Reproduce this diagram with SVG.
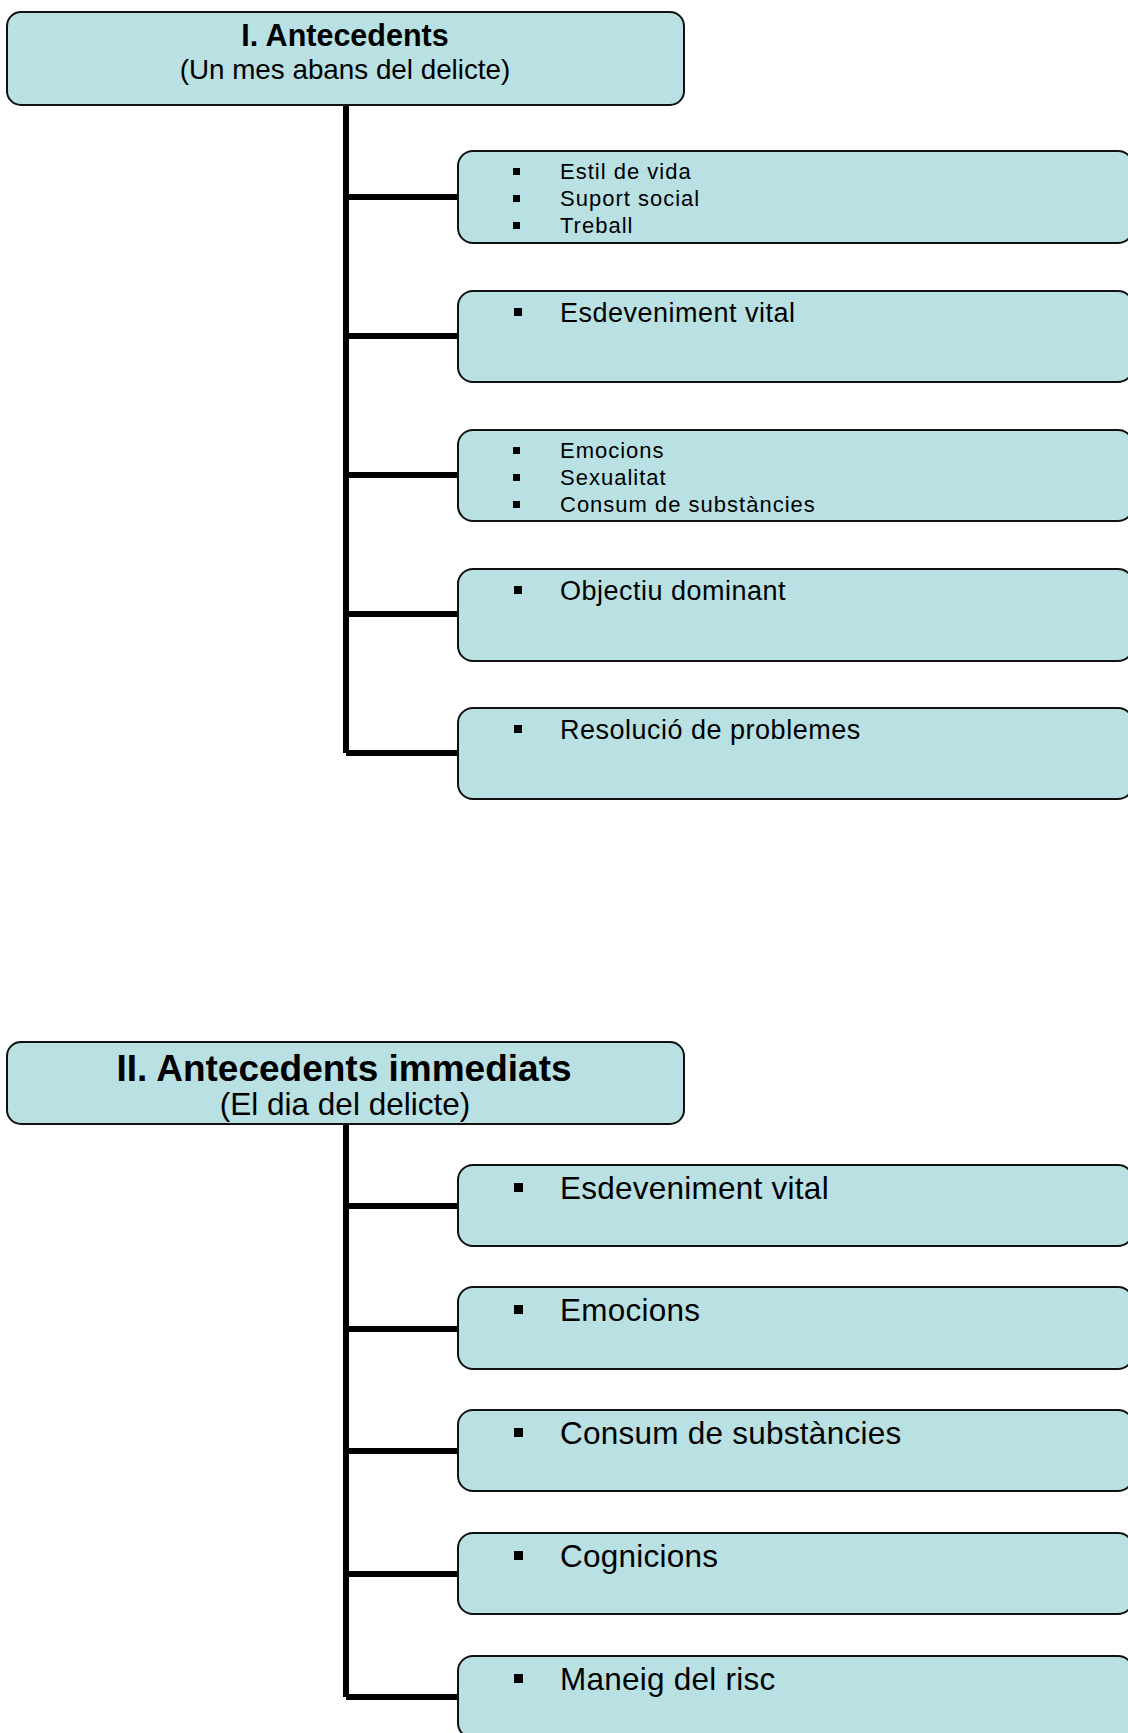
<svg xmlns="http://www.w3.org/2000/svg" width="1128" height="1733" viewBox="0 0 1128 1733">
<style>
.box{fill:#B9E0E3;stroke:#111;stroke-width:2}
.con{stroke:#000;stroke-width:6;fill:none}
text{font-family:"Liberation Sans",Arial,sans-serif;fill:#000}
.t1{font-size:30.5px;font-weight:bold;text-anchor:middle}
.s1{font-size:27.8px;text-anchor:middle}
.t2{font-size:37px;font-weight:bold;text-anchor:middle}
.s2{font-size:31.5px;text-anchor:middle}
.sm{font-size:22px;letter-spacing:1px}
.md{font-size:27px;letter-spacing:0.5px}
.lg{font-size:31.5px;letter-spacing:0.25px}
.b{fill:#000}
</style>
<rect width="1128" height="1733" fill="#fff"/>
<g id="connectors">
<path class="con" d="M346 105V753M346 197H458M346 336H458M346 475H458M346 614H458M346 753H458"/>
<path class="con" d="M346 1124V1697M346 1206H458M346 1329H458M346 1451H458M346 1574H458M346 1697H458"/>
</g>
<g id="sec1">
<rect class="box" x="7" y="12" width="677" height="93" rx="14"/>
<text class="t1" x="345" y="46">I. Antecedents</text>
<text class="s1" x="345" y="79">(Un mes abans del delicte)</text>
</g>
<g id="n1a">
<rect class="box" x="458" y="151" width="675" height="92" rx="15"/>
<rect class="b" x="513" y="168" width="7" height="7"/><text class="sm" x="560" y="179">Estil de vida</text>
<rect class="b" x="513" y="195" width="7" height="7"/><text class="sm" x="560" y="206">Suport social</text>
<rect class="b" x="513" y="222" width="7" height="7"/><text class="sm" x="560" y="233">Treball</text>
</g>
<g id="n1b">
<rect class="box" x="458" y="291" width="675" height="91" rx="15"/>
<rect class="b" x="514" y="308" width="8" height="8"/><text class="md" x="560" y="322">Esdeveniment vital</text>
</g>
<g id="n1c">
<rect class="box" x="458" y="430" width="675" height="91" rx="15"/>
<rect class="b" x="513" y="447" width="7" height="7"/><text class="sm" x="560" y="458">Emocions</text>
<rect class="b" x="513" y="474" width="7" height="7"/><text class="sm" x="560" y="485">Sexualitat</text>
<rect class="b" x="513" y="501" width="7" height="7"/><text class="sm" x="560" y="512">Consum de substàncies</text>
</g>
<g id="n1d">
<rect class="box" x="458" y="569" width="675" height="92" rx="15"/>
<rect class="b" x="514" y="586" width="8" height="8"/><text class="md" x="560" y="600">Objectiu dominant</text>
</g>
<g id="n1e">
<rect class="box" x="458" y="708" width="675" height="91" rx="15"/>
<rect class="b" x="514" y="725" width="8" height="8"/><text class="md" x="560" y="739">Resolució de problemes</text>
</g>
<g id="sec2">
<rect class="box" x="7" y="1042" width="677" height="82" rx="14"/>
<text class="t2" x="344" y="1081">II. Antecedents immediats</text>
<text class="s2" x="345" y="1115">(El dia del delicte)</text>
</g>
<g id="n2a">
<rect class="box" x="458" y="1165" width="675" height="81" rx="15"/>
<rect class="b" x="514" y="1183" width="9" height="9"/><text class="lg" x="560" y="1199">Esdeveniment vital</text>
</g>
<g id="n2b">
<rect class="box" x="458" y="1287" width="675" height="82" rx="15"/>
<rect class="b" x="514" y="1305" width="9" height="9"/><text class="lg" x="560" y="1321">Emocions</text>
</g>
<g id="n2c">
<rect class="box" x="458" y="1410" width="675" height="81" rx="15"/>
<rect class="b" x="514" y="1428" width="9" height="9"/><text class="lg" x="560" y="1444">Consum de substàncies</text>
</g>
<g id="n2d">
<rect class="box" x="458" y="1533" width="675" height="81" rx="15"/>
<rect class="b" x="514" y="1551" width="9" height="9"/><text class="lg" x="560" y="1567">Cognicions</text>
</g>
<g id="n2e">
<rect class="box" x="458" y="1656" width="675" height="82" rx="15"/>
<rect class="b" x="514" y="1674" width="9" height="9"/><text class="lg" x="560" y="1690">Maneig del risc</text>
</g>
</svg>
